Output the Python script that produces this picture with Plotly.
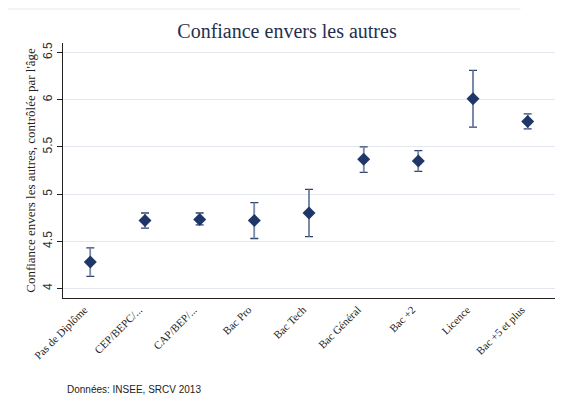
import plotly.graph_objects as go

categories = ["Pas de Diplôme", "CEP/BEPC/...", "CAP/BEP/...", "Bac Pro", "Bac Tech",
              "Bac Général", "Bac +2", "Licence", "Bac +5 et plus"]
estimate = [4.28, 4.72, 4.73, 4.72, 4.80, 5.37, 5.35, 6.01, 5.77]
ci_high = [4.43, 4.80, 4.80, 4.91, 5.05, 5.50, 5.46, 6.31, 5.85]
ci_low = [4.13, 4.64, 4.675, 4.53, 4.55, 5.23, 5.24, 5.71, 5.69]
y_ticks = [4, 4.5, 5, 5.5, 6, 6.5]
y_tick_labels = ["4", "4.5", "5", "5.5", "6", "6.5"]

err_plus = [h - e for h, e in zip(ci_high, estimate)]
err_minus = [e - l for e, l in zip(estimate, ci_low)]

navy = "#1f3768"
serif = "Liberation Serif, DejaVu Serif, serif"

fig = go.Figure()
# caps (dark)
fig.add_trace(go.Scatter(
    x=categories, y=estimate, mode="markers",
    marker=dict(size=1, color="rgba(0,0,0,0)"),
    error_y=dict(type="data", symmetric=False, array=err_plus, arrayminus=err_minus,
                 color="#2c416e", thickness=1.3, width=4),
    hoverinfo="skip", showlegend=False))
# vertical lines (lighter) + markers
fig.add_trace(go.Scatter(
    x=categories, y=estimate, mode="markers",
    marker=dict(symbol="diamond", size=10, color=navy),
    error_y=dict(type="data", symmetric=False, array=err_plus, arrayminus=err_minus,
                 color="#7d8cab", thickness=1.6, width=0),
    showlegend=False))

fig.update_layout(
    width=555, height=392,
    margin=dict(l=55, r=8, t=35, b=102, autoexpand=False),
    paper_bgcolor="white", plot_bgcolor="white",
    title=dict(text="Confiance envers les autres", x=279/555, xanchor="center",
               y=1 - 23/392, yanchor="middle", yref="container",
               font=dict(family=serif, size=20, color="#1f3050")),
    xaxis=dict(type="category", range=[-0.5, 8.5], showgrid=False, automargin=False,
               showline=True, linecolor="#222222", linewidth=1.2, mirror=False,
               ticks="", tickangle=-45, ticklabelshift=-6,
               tickfont=dict(family=serif, size=11, color="#222222")),
    yaxis=dict(range=[3.9, 6.6], tickvals=y_ticks, ticktext=y_tick_labels, automargin=False,
               showgrid=True, gridcolor="#e3e7ef", gridwidth=1.2,
               showline=True, linecolor="#222222", linewidth=1.2,
               ticks="outside", ticklen=5, tickcolor="#222222", tickangle=-90,
               tickfont=dict(family="Liberation Sans, Arial, sans-serif", size=12, color="#333333"),
               zeroline=False,
               title=dict(text="Confiance envers les autres, contrôlée par l'âge",
                          font=dict(family=serif, size=13, color="#222222"), standoff=2)),
    annotations=[dict(text="Données: INSEE, SRCV 2013", xref="paper", yref="paper",
                      x=2/492, y=-(381 - 290) / 255, xanchor="left", yanchor="middle", showarrow=False,
                      font=dict(family="Liberation Sans, Arial, sans-serif", size=10, color="#222222"))],
    shapes=[dict(type="line", xref="paper", yref="paper", x0=-55/492, x1=0.93, y0=1 + 34/255, y1=1 + 34/255,
                 line=dict(color="#e6e9ef", width=1))],
)

fig.write_html("out.html")
